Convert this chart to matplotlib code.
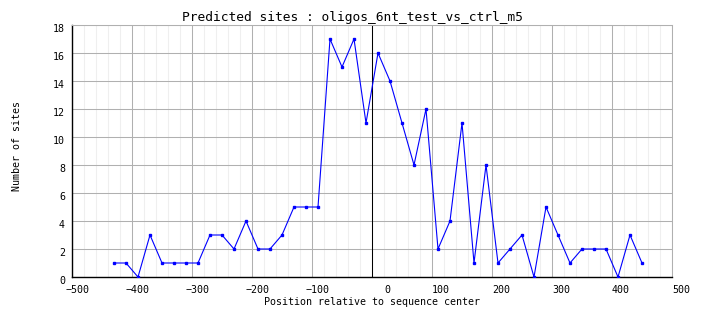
import numpy as np
import matplotlib
matplotlib.use('Agg')
import matplotlib.pyplot as plt
import matplotlib.transforms as mtransforms
from matplotlib.ticker import MultipleLocator

# positions (bp relative to center) and site counts
positions = list(range(-430, 451, 20))
sites = [1, 1, 0, 3, 1, 1, 1, 1, 3, 3, 2, 4, 2, 2, 3, 5, 5, 5,
         17, 15, 17, 11, 16, 14, 11, 8, 12, 2, 4, 11, 1, 8, 1,
         2, 3, 0, 5, 3, 1, 2, 2, 2, 0, 3, 1]
x_ticks = [-500, -400, -300, -200, -100, 0, 100, 200, 300, 400, 500]
y_ticks = [0, 2, 4, 6, 8, 10, 12, 14, 16, 18]

mono = 'DejaVu Sans Mono'

fig = plt.figure(figsize=(7.04, 3.28), dpi=100)
ax = fig.add_axes([72 / 704, 1 - 277 / 328, 600 / 704, 252 / 328])

ax.set_xlim(-500, 500)
ax.set_ylim(0, 18)
ax.set_xticks(x_ticks)
ax.set_yticks(y_ticks)
ax.xaxis.set_minor_locator(MultipleLocator(20))

ax.grid(which='minor', axis='x', color='#efefef', linewidth=0.75)
ax.grid(which='major', axis='both', color='#b0b0b0', linewidth=0.75)
ax.set_axisbelow(True)
ax.axvline(0, color='black', linewidth=0.75, zorder=2)

ax.plot(positions, sites, color='#0000ff', linewidth=0.8,
        marker='s', markersize=1.9, zorder=3)

for side in ['top', 'right']:
    ax.spines[side].set_color('#b0b0b0')
    ax.spines[side].set_linewidth(0.75)
for side in ['left', 'bottom']:
    ax.spines[side].set_color('black')
    ax.spines[side].set_linewidth(1.0)

ax.tick_params(which='both', length=0)
ax.tick_params(axis='x', pad=6)
ax.tick_params(axis='y', pad=5)

# labels sit to the right of their tick, like in the original GD chart
dx = mtransforms.ScaledTranslation(18 / 100, 0, fig.dpi_scale_trans)
for lab in ax.get_xticklabels():
    lab.set_fontfamily(mono)
    lab.set_fontsize(7.2)
    lab.set_horizontalalignment('right')
    lab.set_transform(lab.get_transform() + dx)
dy = mtransforms.ScaledTranslation(0, -3 / 100, fig.dpi_scale_trans)
for lab in ax.get_yticklabels():
    lab.set_fontfamily(mono)
    lab.set_fontsize(7.2)
    lab.set_transform(lab.get_transform() + dy)

fig.text(352 / 704, 1 - 17 / 328, 'Predicted sites : oligos_6nt_test_vs_ctrl_m5',
         ha='center', va='center', fontfamily=mono, fontsize=9.3)
fig.text(372 / 704, 1 - 302 / 328, 'Position relative to sequence center',
         ha='center', va='center', fontfamily=mono, fontsize=7.2)
fig.text(17 / 704, 1 - 146 / 328, 'Number of sites', rotation=90,
         ha='center', va='center', fontfamily=mono, fontsize=7.2)

fig.savefig('out.png', dpi=100)
